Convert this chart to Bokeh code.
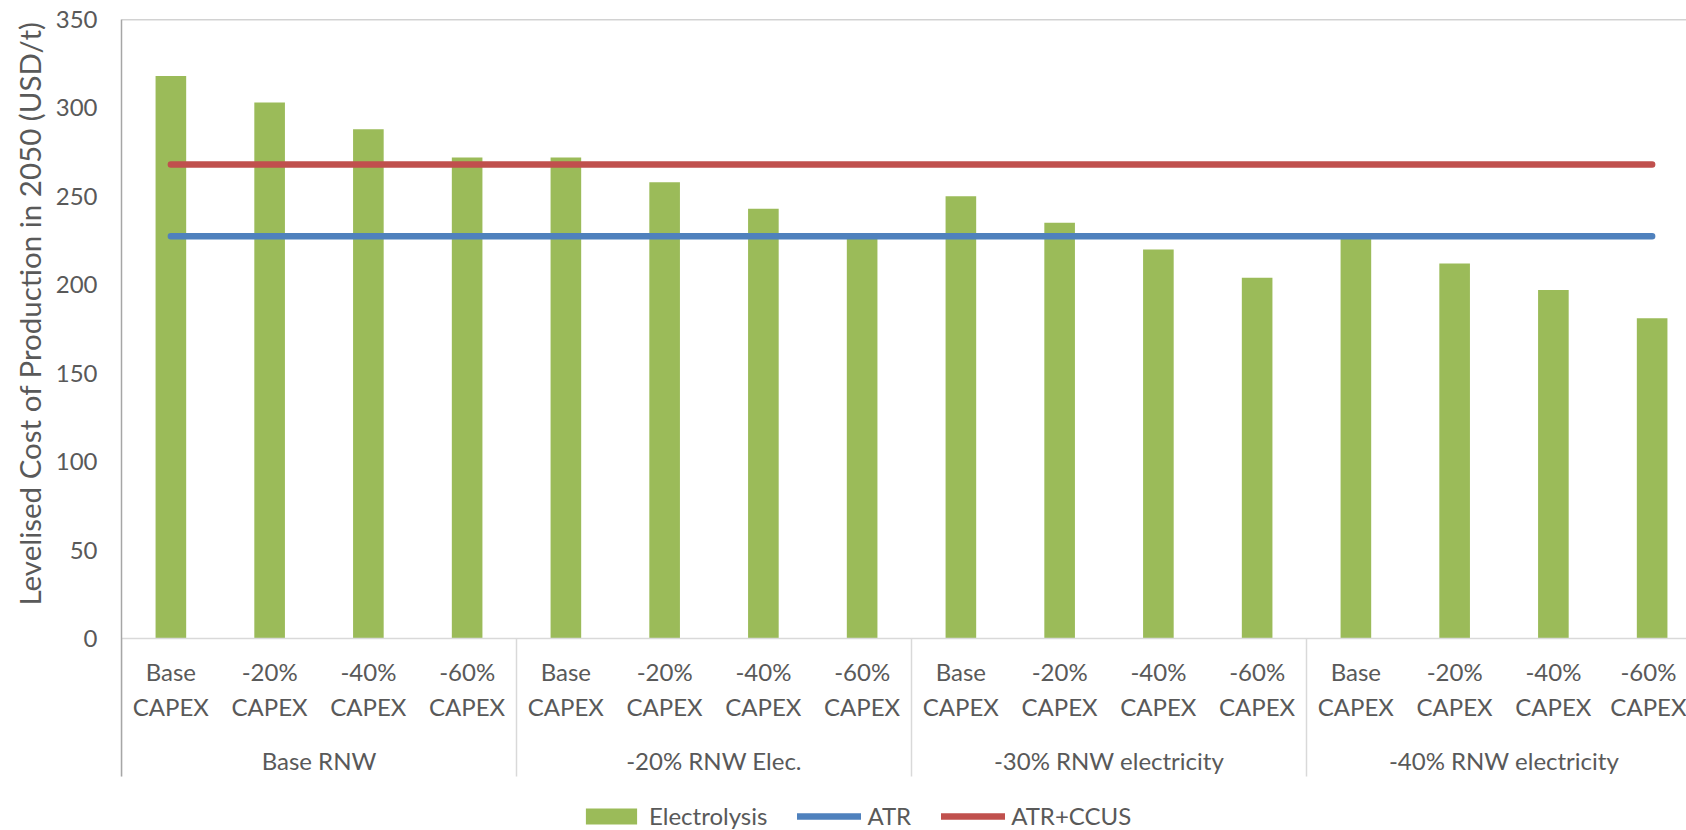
from bokeh.plotting import figure
from bokeh.models import (Range1d, LinearAxis, FixedTicker, Span, Legend,
                          LegendItem, ColumnDataSource, Title)
from bokeh.embed import file_html
from bokeh.resources import INLINE

# ---- data ----
groups = ["Base RNW", "-20% RNW Elec.", "-30% RNW electricity", "-40% RNW electricity"]
capex_levels = ["Base\nCAPEX", "-20%\nCAPEX", "-40%\nCAPEX", "-60%\nCAPEX"]
electrolysis = [318, 303, 288, 272, 272, 258, 243, 228,
                250, 235, 220, 204, 228, 212, 197, 181]
atr = [227.5, 227.5, 227.5, 227.5, 227.5, 227.5, 227.5, 227.5,
       227.5, 227.5, 227.5, 227.5, 227.5, 227.5, 227.5, 227.5]
atr_ccus = [268, 268, 268, 268, 268, 268, 268, 268,
            268, 268, 268, 268, 268, 268, 268, 268]
y_ticks = [0, 50, 100, 150, 200, 250, 300, 350]
y_title = "Levelised Cost of Production in 2050 (USD/t)"

# ---- derived positions (category index -> numeric scale) ----
n_per_group = len(capex_levels)
n_cat = len(groups) * n_per_group
centers = [i + 0.5 for i in range(n_cat)]
cat_labels = [capex_levels[i % n_per_group] for i in range(n_cat)]
group_centers = [g * n_per_group + n_per_group / 2 for g in range(len(groups))]
group_bounds = [g * n_per_group for g in range(len(groups) + 1)]

FONT = "Lato"
TXT = "#595959"
FS = "24px"

src = ColumnDataSource(dict(x=centers, elec=electrolysis, atr=atr, ccus=atr_ccus))

p = figure(width=1686, height=830, output_backend="svg", toolbar_location=None,
           x_range=Range1d(0, 15.848), y_range=Range1d(-108.6, 350),
           min_border_left=121, min_border_right=0, min_border_top=19,
           min_border_bottom=0)
p.outline_line_color = None
p.grid.visible = False
p.background_fill_color = "white"
p.border_fill_color = "white"

bars = p.vbar(x="x", top="elec", bottom=0, width=0.31, source=src,
              fill_color="#9BBB59", line_color=None)
l_atr = p.line(x="x", y="atr", source=src, line_color="#4F81BD",
               line_width=6.5, line_cap="round")
l_ccus = p.line(x="x", y="ccus", source=src, line_color="#C0504D",
                line_width=6.5, line_cap="round")

# y axis (line stops where the category band ends)
ya = p.yaxis[0]
ya.ticker = FixedTicker(ticks=y_ticks, minor_ticks=[])
ya.bounds = (-78, y_ticks[-1])
ya.major_label_text_font = FONT
ya.major_label_text_font_size = FS
ya.major_label_text_color = TXT
ya.major_label_standoff = 18
ya.major_tick_line_color = None
ya.minor_tick_line_color = None
ya.axis_line_color = "#A6A6A6"
ya.axis_line_width = 1.5

# y title, aligned to the top of the value area
p.add_layout(Title(text=y_title, align="right", offset=2, standoff=12,
                   text_font=FONT, text_font_size="29.5px",
                   text_font_style="normal", text_color=TXT), "left")

# top border
p.add_layout(Span(location=y_ticks[-1], dimension="width",
                  line_color="#A6A6A6", line_width=1.5))

# category axis at value 0
xa = p.xaxis[0]
xa.fixed_location = 0
xa.ticker = FixedTicker(ticks=centers, minor_ticks=[])
xa.major_label_overrides = {c: l for c, l in zip(centers, cat_labels)}
xa.major_label_text_font = FONT
xa.major_label_text_font_size = FS
xa.major_label_text_color = TXT
xa.major_label_standoff = 19
xa.major_tick_line_color = None
xa.major_tick_out = 0
xa.major_tick_in = 0
xa.minor_tick_line_color = None
xa.axis_line_color = "#D9D9D9"
xa.axis_line_width = 1.5

# group separators: long ticks at the group boundaries
sa = LinearAxis(ticker=FixedTicker(ticks=group_bounds, minor_ticks=[]))
sa.fixed_location = 0
sa.major_label_text_color = None
sa.major_label_text_font_size = "1px"
sa.major_tick_in = 0
sa.major_tick_out = 138
sa.major_tick_line_color = "#D9D9D9"
sa.major_tick_line_width = 1.5
sa.minor_tick_line_color = None
sa.axis_line_color = None
p.add_layout(sa, "below")

# group axis
ga = LinearAxis(ticker=FixedTicker(ticks=group_centers, minor_ticks=[]))
ga.fixed_location = 0
ga.major_label_overrides = {c: g for c, g in zip(group_centers, groups)}
ga.major_label_text_font = FONT
ga.major_label_text_font_size = FS
ga.major_label_text_color = TXT
ga.major_label_standoff = 108
ga.major_tick_line_color = None
ga.major_tick_out = 0
ga.major_tick_in = 0
ga.minor_tick_line_color = None
ga.axis_line_color = None
p.add_layout(ga, "below")

legend = Legend(items=[LegendItem(label="Electrolysis", renderers=[bars]),
                       LegendItem(label="ATR", renderers=[l_atr]),
                       LegendItem(label="ATR+CCUS", renderers=[l_ccus])],
                orientation="horizontal", location=(458, 0),
                glyph_width=64, glyph_height=20, label_standoff=6, spacing=30,
                label_text_font=FONT, label_text_font_size=FS,
                label_text_color=TXT, border_line_color=None,
                background_fill_alpha=0, margin=0, padding=0)
p.add_layout(legend)

open("out.html", "w").write(file_html(p, INLINE))
